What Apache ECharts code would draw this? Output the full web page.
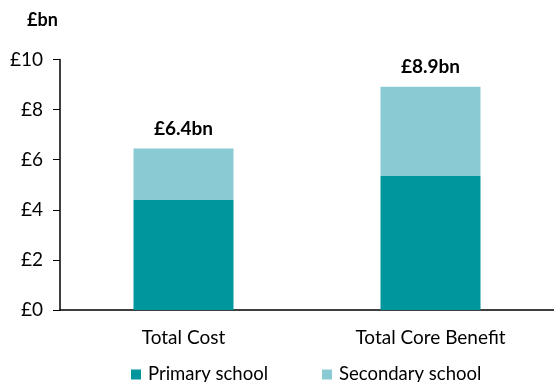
<!DOCTYPE html>
<html><head><meta charset="utf-8">
<script src="https://cdn.jsdelivr.net/npm/echarts@6/dist/echarts.min.js"></script>
<style>html,body{margin:0;padding:0;background:#fff}#c{width:554px;height:382px}</style>
</head><body><div id="c"></div>
<script>
var categories = ['Total Cost', 'Total Core Benefit'];
var primary = [4.39, 5.35];
var secondary = [2.06, 3.56];
var totalLabels = ['£6.4bn', '£8.9bn'];
var yTicks = [0, 2, 4, 6, 8, 10];
var FONT = 'Lato, "Open Sans", sans-serif';
var chart = echarts.init(document.getElementById('c'));
chart.setOption({
  animation: false,
  textStyle: {fontFamily: FONT},
  grid: {left: 60, top: 59.5, width: 498, bottom: 72},
  title: {text: '£bn', left: 22, top: 6, textStyle: {fontFamily: FONT, fontSize: 18, fontWeight: 'bold', color: '#000'}},
  legend: {
    top: 360, left: 126, itemWidth: 10, itemHeight: 10, itemGap: 54,
    icon: 'rect',
    textStyle: {fontFamily: FONT, fontSize: 18.5, color: '#000', padding: [0, 0, 0, 2]},
    data: ['Primary school', 'Secondary school']
  },
  xAxis: {
    type: 'category', data: categories,
    axisLine: {lineStyle: {color: '#000', width: 1.5}},
    axisTick: {show: false},
    axisLabel: {fontFamily: FONT, fontSize: 19, color: '#000', margin: 18}
  },
  yAxis: {
    type: 'value', min: 0, max: 10, interval: 2,
    axisLine: {show: true, lineStyle: {color: '#000', width: 1.5}},
    axisTick: {show: true, inside: false, length: 7, lineStyle: {color: '#000'}},
    splitLine: {show: false},
    axisLabel: {fontFamily: FONT, fontSize: 19, color: '#000', margin: 17,
      formatter: function (v) { return yTicks.indexOf(v) >= 0 ? '£' + v : ''; }}
  },
  series: [
    {name: 'Primary school', type: 'bar', stack: 's', data: primary, barWidth: 100,
     itemStyle: {color: '#00969E'}},
    {name: 'Secondary school', type: 'bar', stack: 's', data: secondary, barWidth: 100,
     itemStyle: {color: '#89CAD3'},
     label: {show: true, position: 'top', distance: 10, fontFamily: FONT, fontSize: 19, fontWeight: 'bold', color: '#000',
       formatter: function (p) { return totalLabels[p.dataIndex]; }}}
  ]
});
</script></body></html>
